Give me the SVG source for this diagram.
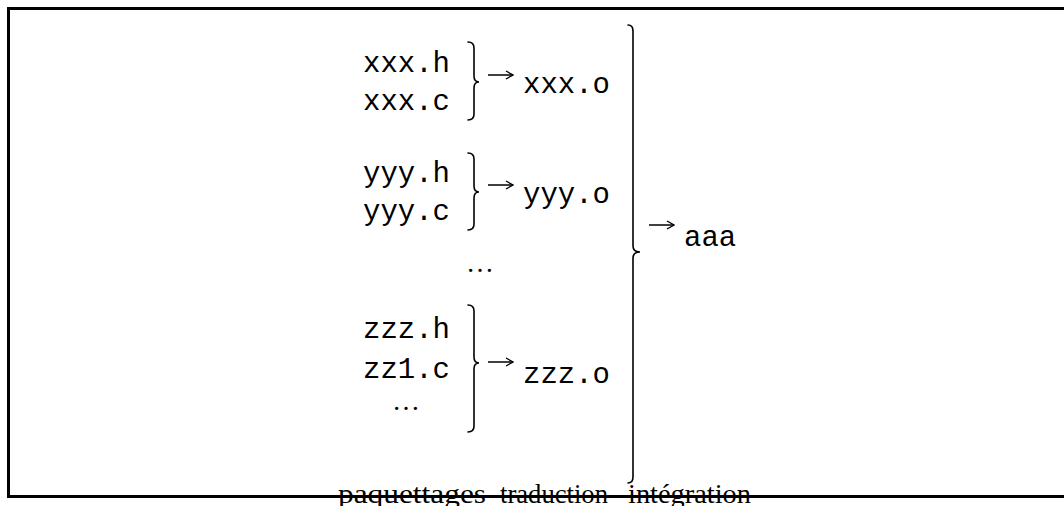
<svg xmlns="http://www.w3.org/2000/svg" width="1064" height="506" viewBox="0 0 1064 506">
<defs>
<style>
.m{font-family:"Liberation Mono","Courier New",monospace;font-size:29px;fill:#000}
.s{font-family:"Liberation Serif","Times New Roman",serif;font-size:28px;fill:#000}
.br{fill:none;stroke:#000;stroke-width:1.6;stroke-linecap:round}
.ar{fill:none;stroke:#000;stroke-width:1.5}
.frame{fill:none;stroke:#000;stroke-width:3}
</style>
<marker id="ah" viewBox="0 0 10 10" refX="9" refY="5" markerWidth="10" markerHeight="10" markerUnits="userSpaceOnUse" orient="auto">
<path d="M2,1 L9,5 L2,9" fill="none" stroke="#000" stroke-width="1.3"/>
</marker>
</defs>
<rect width="1064" height="506" fill="#fff"/>
<g id="bottom-labels">
<text class="s" x="338" y="503" textLength="148" lengthAdjust="spacingAndGlyphs">paquettages</text>
<text class="s" x="500" y="503" textLength="108" lengthAdjust="spacingAndGlyphs">traduction</text>
<text class="s" x="628" y="503" textLength="123" lengthAdjust="spacingAndGlyphs">intégration</text>
</g>
<path class="frame" d="M1064,8.5 L8.5,8.5 L8.5,496.5 L1064,496.5"/>
<g id="group-xxx">
<text class="m" x="363" y="72">xxx.h</text>
<text class="m" x="363" y="110">xxx.c</text>
<path class="br" d="M468,42 Q474,42 474,48 L474,76 Q474,82 479,82 Q474,82 474,88 L474,114 Q474,120 468,120"/>
</g>
<g id="node-xxx-o"><text class="m" x="523" y="93">xxx.o</text></g>
<g id="group-yyy">
<text class="m" x="363" y="182">yyy.h</text>
<text class="m" x="363" y="220">yyy.c</text>
<path class="br" d="M468,153 Q474,153 474,159 L474,186 Q474,192 479,192 Q474,192 474,198 L474,224 Q474,230 468,230"/>
</g>
<g id="node-yyy-o"><text class="m" x="523" y="203">yyy.o</text></g>
<g id="ellipsis-1"><text class="s" x="480" y="272" text-anchor="middle">…</text></g>
<g id="group-zzz">
<text class="m" x="363" y="338">zzz.h</text>
<text class="m" x="363" y="378">zz1.c</text>
<text class="s" x="406" y="410" text-anchor="middle">…</text>
<path class="br" d="M468,305 Q474,305 474,311 L474,357 Q474,363 479,363 Q474,363 474,369 L474,426 Q474,432 468,432"/>
</g>
<g id="node-zzz-o"><text class="m" x="523" y="383">zzz.o</text></g>
<g id="group-all">
<path class="br" d="M628,25 Q633,25 633,31 L633,246 Q633,252 640,252 Q633,252 633,258 L633,477 Q633,483 628,483"/>
</g>
<g id="node-aaa"><text class="m" x="684" y="246">aaa</text></g>
<g id="connectors">
<path class="ar" d="M488,75 L513,75" marker-end="url(#ah)"/>
<path class="ar" d="M488,185 L513,185" marker-end="url(#ah)"/>
<path class="ar" d="M488,362 L513,362" marker-end="url(#ah)"/>
<path class="ar" d="M649,225 L674,225" marker-end="url(#ah)"/>
</g>
</svg>
